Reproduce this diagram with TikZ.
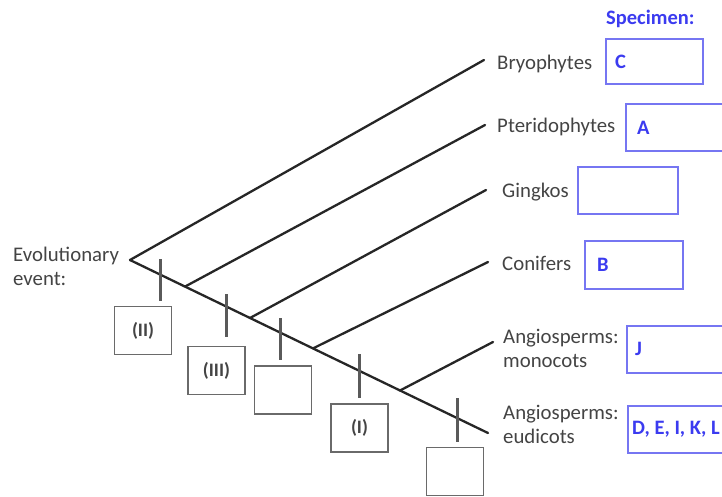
\documentclass[tikz,border=0pt]{standalone}
\usepackage{fontspec}
\setmainfont{Carlito}
\definecolor{txtgray}{HTML}{444444}
\definecolor{tickgray}{HTML}{5A5A5A}
\definecolor{boxgray}{HTML}{6A6A6A}
\definecolor{bluebox}{HTML}{7676F2}
\definecolor{bluetxt}{HTML}{3B3BF0}
\tikzset{
  branch/.style={line width=2.3pt, black!85, line cap=round},
  tickmark/.style={line width=3pt, tickgray},
  evbox/.style={draw=boxgray, line width=1.8pt, minimum width=57pt, minimum height=48pt, inner sep=0pt,
    text=txtgray, font=\fontsize{19}{22}\selectfont\bfseries},
  spbox/.style={draw=bluebox, line width=1.8pt, minimum height=46pt, inner sep=0pt, anchor=north west},
  sptext/.style={anchor=west, inner sep=0pt, text=bluetxt, font=\fontsize{20.5}{24}\selectfont\bfseries},
  taxon/.style={anchor=base west, inner sep=0pt, text=txtgray, align=left, font=\fontsize{20.8}{24.5}\selectfont},
}
\begin{document}
\begin{tikzpicture}[x=1pt,y=-1pt]
\clip (0,0) rectangle (722,497);
\fill[white] (0,0) rectangle (722,497);
% tree points
\coordinate (root) at (130,260);
\coordinate (b1) at (185,286.6);
\coordinate (b2) at (250,318);
\coordinate (b3) at (313,348.4);
\coordinate (b4) at (400,390.5);
\coordinate (eEud) at (488,433);
\coordinate (eBry) at (484,60);
\coordinate (ePte) at (485,125);
\coordinate (eGin) at (486,190);
\coordinate (eCon) at (488,262);
\coordinate (eMon) at (493,342);
% branches
\draw[branch] (root) -- (eEud);
\draw[branch] (root) -- (eBry);
\draw[branch] (b1) -- (ePte);
\draw[branch] (b2) -- (eGin);
\draw[branch] (b3) -- (eCon);
\draw[branch] (b4) -- (eMon);
% tick marks
\coordinate (t1a) at (160,259); \coordinate (t1b) at (160,301);
\coordinate (t2a) at (226,294); \coordinate (t2b) at (226,337);
\coordinate (t3a) at (280,318); \coordinate (t3b) at (280,360);
\coordinate (t4a) at (359,354); \coordinate (t4b) at (359,398);
\coordinate (t5a) at (457,398); \coordinate (t5b) at (457,442);
\draw[tickmark] (t1a) -- (t1b);
\draw[tickmark] (t2a) -- (t2b);
\draw[tickmark] (t3a) -- (t3b);
\draw[tickmark] (t4a) -- (t4b);
\draw[tickmark] (t5a) -- (t5b);
% evolutionary event boxes
\node[evbox] (ev1) at (143,330.5) {(II)};
\node[evbox] (ev2) at (216.5,370.5) {(III)};
\node[evbox] (ev3) at (283,390) {};
\node[evbox] (ev4) at (359.5,428) {(I)};
\node[evbox] (ev5) at (455,471.5) {};
% labels (base anchor = baseline of last line)
\node[taxon] (evlab) at (13,285.5) {Evolutionary\\event:};
\node[taxon] (lBry) at (497,70) {Bryophytes};
\node[taxon] (lPte) at (497,133) {Pteridophytes};
\node[taxon] (lGin) at (502,197) {Gingkos};
\node[taxon] (lCon) at (502,270) {Conifers};
\node[taxon] (lMon) at (503,367.5) {Angiosperms:\\monocots};
\node[taxon] (lEud) at (503,443.5) {Angiosperms:\\eudicots};
% specimen
\node[anchor=base west, inner sep=0pt, text=bluetxt, font=\fontsize{20.5}{24}\selectfont\bfseries] (spec) at (606,25) {Specimen:};
\node[spbox, minimum width=97pt, minimum height=45pt] (sC) at (605,38) {};
\node[spbox, minimum width=140pt, minimum height=47pt] (sA) at (625,103) {};
\node[spbox, minimum width=100pt, minimum height=47pt] (sG) at (577,166) {};
\node[spbox, minimum width=98pt, minimum height=48pt] (sB) at (584,240) {};
\node[spbox, minimum width=140pt, minimum height=47pt] (sJ) at (626,325) {};
\node[spbox, minimum width=140pt, minimum height=47pt] (sD) at (627,405) {};
\node[sptext] (tC) at ([xshift=10pt]sC.west) {C};
\node[sptext] (tA) at ([xshift=12pt]sA.west) {A};
\node[sptext] (tB) at ([xshift=13pt]sB.west) {B};
\node[sptext] (tJ) at ([xshift=9pt]sJ.west) {J};
\node[sptext] (tD) at ([xshift=5pt]sD.west) {D, E, I, K, L};
\end{tikzpicture}
\end{document}
